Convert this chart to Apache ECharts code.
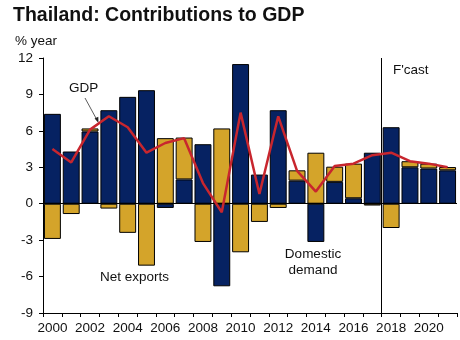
<!DOCTYPE html>
<html>
<head>
<meta charset="utf-8">
<script src="https://cdn.jsdelivr.net/npm/echarts@6/dist/echarts.min.js"></script>
<style>
  html, body { margin: 0; padding: 0; background: #fff; }
  #chart { width: 460px; height: 340px; }
</style>
</head>
<body>
<div id="chart"></div>
<script>
// Contributions to real GDP growth, percentage points (2018 onward forecast)
const years = ['2000','2001','2002','2003','2004','2005','2006','2007','2008','2009','2010',
               '2011','2012','2013','2014','2015','2016','2017','2018','2019','2020','2021'];
const domesticDemand = [7.4, 4.3, 5.95, 7.7, 8.8, 9.35, -0.35, 2.0, 4.9, -6.8, 11.5,
                        2.4, 7.7, 1.9, -3.15, 1.8, 0.45, 4.2, 6.3, 3.0, 2.9, 2.75];
const netExports = [-2.9, -0.85, 0.25, -0.4, -2.4, -5.1, 5.4, 3.45, -3.15, 6.2, -4.0,
                    -1.5, -0.35, 0.85, 4.2, 1.25, 2.85, -0.15, -2.0, 0.5, 0.4, 0.27];
const gdpGrowth = [4.5, 3.4, 6.1, 7.2, 6.3, 4.2, 5.0, 5.4, 1.7, -0.7, 7.5,
                   0.8, 7.2, 2.7, 1.0, 3.1, 3.3, 4.0, 4.2, 3.5, 3.3, 3.0];
const yTicks = { min: -9, max: 12, step: 3 };
const forecastStart = 18; // index of first forecast year

const navy = '#062262';
const gold = '#d4a42a';
const red = '#c8262e';
const font = 'Liberation Sans, Arial, sans-serif';

const chart = echarts.init(document.getElementById('chart'), null, { renderer: 'canvas' });

chart.setOption({
  animation: false,
  backgroundColor: '#fff',
  textStyle: { fontFamily: font },
  grid: { left: 43, right: 3, top: 58, bottom: 27, containLabel: false },
  title: [
    { text: 'Thailand: Contributions to GDP', left: 8, top: 1,
      textStyle: { fontFamily: font, fontSize: 19.5, fontWeight: 'bold', color: '#111' } },
    { text: '% year', left: 10, top: 29,
      textStyle: { fontFamily: font, fontSize: 13.5, fontWeight: 'normal', color: '#111' } }
  ],
  xAxis: [
    {
      type: 'category', data: years, boundaryGap: true,
      axisLine: { onZero: false, lineStyle: { color: '#000', width: 1 } },
      axisTick: { show: true, interval: 0, length: 4, lineStyle: { color: '#000' } },
      axisLabel: { interval: 1, color: '#111', fontSize: 13.5, fontFamily: font, margin: 8 },
      splitLine: { show: false }
    },
    {
      type: 'value', min: 0, max: years.length, show: false
    }
  ],
  yAxis: {
    type: 'value', min: yTicks.min, max: yTicks.max, interval: yTicks.step,
    axisLine: { show: true, lineStyle: { color: '#000', width: 1 } },
    axisTick: { show: true, length: 4, lineStyle: { color: '#000' } },
    axisLabel: { color: '#111', fontSize: 13.5, fontFamily: font, margin: 10 },
    splitLine: { show: false }
  },
  series: [
    {
      name: 'Domestic demand', type: 'bar', stack: 'contrib', data: domesticDemand,
      barCategoryGap: '10%',
      itemStyle: { color: navy, borderColor: '#000', borderWidth: 1 },
      markLine: {
        silent: true, symbol: 'none', label: { show: false },
        lineStyle: { color: '#000', width: 1, type: 'solid' },
        data: [{ yAxis: 0 }]
      }
    },
    {
      name: 'Net exports', type: 'bar', stack: 'contrib', data: netExports,
      barCategoryGap: '10%',
      itemStyle: { color: gold, borderColor: '#000', borderWidth: 1 }
    },
    {
      name: 'GDP', type: 'line', data: gdpGrowth, showSymbol: false, symbol: 'none',
      lineStyle: { color: red, width: 2.5 }, z: 5
    },
    {
      name: 'forecast', type: 'line', xAxisIndex: 1, data: [],
      markLine: {
        silent: true, symbol: 'none', label: { show: false },
        lineStyle: { color: '#000', width: 1, type: 'solid' },
        data: [{ xAxis: forecastStart }]
      }
    }
  ],
  graphic: [
    { type: 'text', left: 69, top: 81,
      style: { text: 'GDP', fontFamily: font, fontSize: 13.5, fill: '#111' } },
    { type: 'line', shape: { x1: 85, y1: 98, x2: 97, y2: 120 },
      style: { stroke: '#333', lineWidth: 0.8 } },
    { type: 'polygon', shape: { points: [[98.5, 123], [94.6, 118.6], [98.3, 116.8]] },
      style: { fill: '#222' } },
    { type: 'text', left: 100, top: 270,
      style: { text: 'Net exports', fontFamily: font, fontSize: 13.5, fill: '#111' } },
    { type: 'text', x: 313, y: 246,
      style: { text: 'Domestic\ndemand', fontFamily: font, fontSize: 13.5, fill: '#111',
               align: 'center', lineHeight: 16 } },
    { type: 'text', left: 393, top: 63,
      style: { text: "F'cast", fontFamily: font, fontSize: 13.5, fill: '#111' } }
  ]
});
</script>
</body>
</html>
